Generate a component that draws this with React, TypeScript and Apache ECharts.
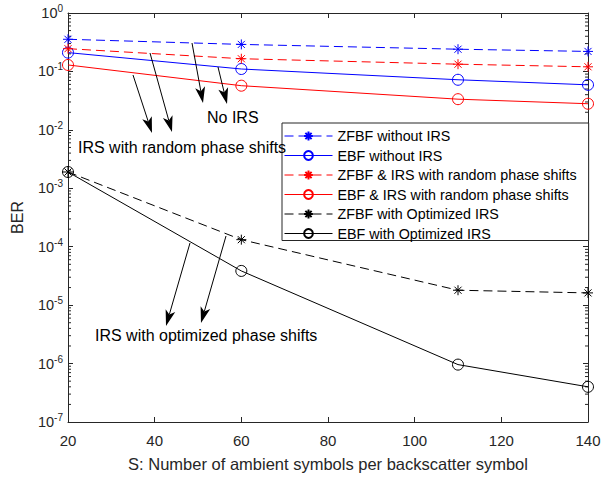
import React, { useEffect, useRef } from "react";
import * as echarts from "echarts";

// ---- data ----
const xValues = [20, 60, 110, 140];
const zfbfNoIrs = [0.355, 0.29, 0.24, 0.22];
const ebfNoIrs = [0.21, 0.11, 0.072, 0.059];
const zfbfRandom = [0.245, 0.165, 0.133, 0.12];
const ebfRandom = [0.129, 0.057, 0.0335, 0.028];
const zfbfOpt = [0.0019, 1.32e-4, 1.8e-5, 1.62e-5];
const ebfOpt = [0.0019, 3.85e-5, 9.6e-7, 4.0e-7];

const seriesNames = [
  "ZFBF without IRS",
  "EBF without IRS",
  "ZFBF & IRS with random phase shifts",
  "EBF & IRS with random phase shifts",
  "ZFBF with Optimized IRS",
  "EBF with Optimized IRS",
];

const xMin = 20;
const xMax = 140;
const xInterval = 20;
const yMin = 1e-7;
const yMax = 1;
const minorMantissas = [2, 3, 4, 5, 6, 7, 8, 9];
const decadeExponents = [-7, -6, -5, -4, -3, -2, -1];

const annotationTexts = [
  "No IRS",
  "IRS with random phase shifts",
  "IRS with optimized phase shifts",
];

const FONT = "'Liberation Sans', Arial, Helvetica, sans-serif";
const AX = "#262626";
const ASTERISK =
  "path://M5,0L5,10M0,5L10,5M1.46,1.46L8.54,8.54M1.46,8.54L8.54,1.46";

function pairs(ys: number[]) {
  return xValues.map((x, i) => [x, ys[i]]);
}

function arrow(tail: number[], tip: number[]) {
  const dx = tip[0] - tail[0];
  const dy = tip[1] - tail[1];
  const len = Math.sqrt(dx * dx + dy * dy);
  const ux = dx / len;
  const uy = dy / len;
  const nx = -uy;
  const ny = ux;
  const L = 16;
  const W = 5;
  const notch = 4;
  const bx = tip[0] - L * ux;
  const by = tip[1] - L * uy;
  const mx = tip[0] - (L - notch) * ux;
  const my = tip[1] - (L - notch) * uy;
  return [
    {
      type: "line",
      shape: { x1: tail[0], y1: tail[1], x2: mx, y2: my },
      style: { stroke: "#000", lineWidth: 1 },
      z: 50,
    },
    {
      type: "polygon",
      shape: {
        points: [
          [tip[0], tip[1]],
          [bx + W * nx, by + W * ny],
          [mx, my],
          [bx - W * nx, by - W * ny],
        ],
      },
      style: { fill: "#000" },
      z: 50,
    },
  ];
}

function lineSeries(
  name: string,
  ys: number[],
  color: string,
  dashed: boolean,
  symbol: string,
  size: number
) {
  return {
    name,
    type: "line",
    data: pairs(ys),
    xAxisIndex: 0,
    yAxisIndex: 0,
    symbol,
    symbolSize: size,
    showSymbol: true,
    lineStyle: { color, width: 1, type: dashed ? [9, 5] : "solid" },
    itemStyle: {
      color: "rgba(0,0,0,0)",
      borderColor: color,
      borderWidth: 1,
    },
    emphasis: { disabled: true },
    z: 10,
  };
}

export default function App() {
  const ref = useRef<HTMLDivElement>(null);

  useEffect(() => {
    if (!ref.current) return;
    const chart = echarts.init(ref.current, undefined, { renderer: "svg" });

    const minorValues: number[] = [];
    decadeExponents.forEach((e) =>
      minorMantissas.forEach((m) => minorValues.push(m * Math.pow(10, e)))
    );

    const yBase = {
      type: "log",
      logBase: 10,
      min: yMin,
      max: yMax,
      splitNumber: 7,
      splitLine: { show: false },
    };

    const option: any = {
      animation: false,
      backgroundColor: "#fff",
      textStyle: { fontFamily: FONT },
      grid: { left: 68, right: 16, top: 13, bottom: 54, containLabel: false },
      xAxis: [
        {
          type: "value",
          min: xMin,
          max: xMax,
          interval: xInterval,
          position: "bottom",
          name: "S: Number of ambient symbols per backscatter symbol",
          nameLocation: "middle",
          nameGap: 33,
          nameTextStyle: { fontSize: 16.5, color: AX, fontFamily: FONT },
          axisLine: { show: true, onZero: false, lineStyle: { color: AX } },
          axisTick: { inside: true, length: 5, lineStyle: { color: AX } },
          axisLabel: { fontSize: 15, color: AX, margin: 11, fontFamily: FONT },
          splitLine: { show: false },
        },
        {
          type: "value",
          min: xMin,
          max: xMax,
          interval: xInterval,
          position: "top",
          axisLine: { show: true, onZero: false, lineStyle: { color: AX } },
          axisTick: { inside: true, length: 5, lineStyle: { color: AX } },
          axisLabel: { show: false },
          splitLine: { show: false },
        },
      ],
      yAxis: [
        {
          ...yBase,
          position: "left",
          name: "BER",
          nameLocation: "middle",
          nameGap: 43,
          nameTextStyle: { fontSize: 16, color: AX, fontFamily: FONT },
          axisLine: { show: true, onZero: false, lineStyle: { color: AX } },
          axisTick: { inside: true, length: 5, lineStyle: { color: AX } },
          axisLabel: {
            margin: 5,
            color: AX,
            fontFamily: FONT,
            formatter: (v: number) =>
              "{b|10}{s|" + Math.round(Math.log10(v)) + "}",
            rich: {
              b: { fontSize: 14.5, color: AX, fontFamily: FONT },
              s: {
                fontSize: 10,
                color: AX,
                fontFamily: FONT,
                padding: [0, 0, 9, 0],
              },
            },
          },
        },
        {
          ...yBase,
          position: "right",
          axisLine: { show: true, onZero: false, lineStyle: { color: AX } },
          axisTick: { inside: true, length: 5, lineStyle: { color: AX } },
          axisLabel: { show: false },
        },
      ],
      legend: {
        orient: "vertical",
        left: 282,
        top: 123,
        padding: [6, 12, 0, 2],
        itemWidth: 48,
        itemHeight: 11,
        itemGap: 5.5,
        backgroundColor: "#fff",
        borderColor: "#262626",
        borderWidth: 1,
        borderRadius: 0,
        selectedMode: false,
        lineStyle: { width: 1 },
        textStyle: { fontSize: 14.3, color: "#000", fontFamily: FONT },
        data: seriesNames,
        z: 20,
      },
      series: [
        lineSeries(seriesNames[0], zfbfNoIrs, "#0000ff", true, ASTERISK, 10),
        lineSeries(seriesNames[1], ebfNoIrs, "#0000ff", false, "circle", 11),
        lineSeries(seriesNames[2], zfbfRandom, "#ff0000", true, ASTERISK, 10),
        lineSeries(seriesNames[3], ebfRandom, "#ff0000", false, "circle", 11),
        lineSeries(seriesNames[4], zfbfOpt, "#000000", true, ASTERISK, 10),
        lineSeries(seriesNames[5], ebfOpt, "#000000", false, "circle", 11),
        {
          type: "custom",
          name: "minor-ticks",
          xAxisIndex: 0,
          yAxisIndex: 0,
          silent: true,
          clip: false,
          data: minorValues.map((v) => [xMin, v]),
          renderItem: (params: any, api: any) => {
            const cs = params.coordSys;
            const y = api.coord([xMin, api.value(1)])[1];
            const st = { stroke: AX, lineWidth: 1 };
            return {
              type: "group",
              children: [
                {
                  type: "line",
                  shape: { x1: cs.x, y1: y, x2: cs.x + 3, y2: y },
                  style: st,
                },
                {
                  type: "line",
                  shape: {
                    x1: cs.x + cs.width - 3,
                    y1: y,
                    x2: cs.x + cs.width,
                    y2: y,
                  },
                  style: st,
                },
              ],
            };
          },
          z: 5,
        },
      ],
      graphic: [
        ...arrow([133, 75], [152, 133]),
        ...arrow([150, 53], [172, 132]),
        ...arrow([192, 43], [203, 103]),
        ...arrow([218, 67], [227, 104]),
        ...arrow([190, 243], [166, 326]),
        ...arrow([226, 236], [201, 323]),
        {
          type: "text",
          x: 207,
          y: 117,
          z: 50,
          style: {
            text: annotationTexts[0],
            font: "16px " + FONT,
            fill: "#000",
            verticalAlign: "middle",
          },
        },
        {
          type: "text",
          x: 78,
          y: 147,
          z: 50,
          style: {
            text: annotationTexts[1],
            font: "16px " + FONT,
            fill: "#000",
            verticalAlign: "middle",
          },
        },
        {
          type: "text",
          x: 95,
          y: 335,
          z: 50,
          style: {
            text: annotationTexts[2],
            font: "16px " + FONT,
            fill: "#000",
            verticalAlign: "middle",
          },
        },
      ],
    };

    chart.setOption(option);
    return () => chart.dispose();
  }, []);

  return (
    <div
      ref={ref}
      style={{ position: "absolute", left: 0, top: 0, width: 604, height: 477 }}
    />
  );
}
